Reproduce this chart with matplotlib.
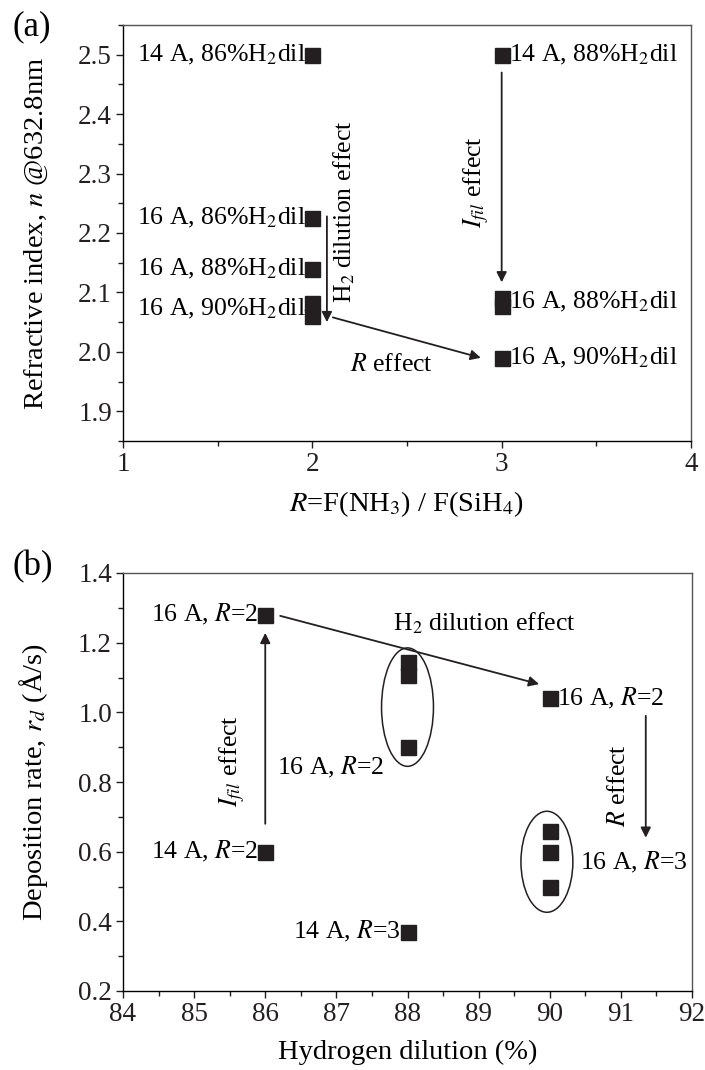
import matplotlib
matplotlib.use("Agg")
import matplotlib.pyplot as plt
from matplotlib.patches import Ellipse
from matplotlib.ticker import MultipleLocator, FormatStrFormatter

plt.rcParams['font.family'] = ['Liberation Serif', 'DejaVu Serif']
plt.rcParams['mathtext.fontset'] = 'stix'

# ---- data panel (a) ----
a_R = [2, 2, 2, 2, 2, 3, 3, 3, 3]
a_n = [2.50, 2.225, 2.14, 2.083, 2.06, 2.50, 2.09, 2.078, 1.99]
a_labels = [
    (2, 2.50, "14 A, 86%H$_2$dil", 'left'),
    (2, 2.225, "16 A, 86%H$_2$dil", 'left'),
    (2, 2.14, "16 A, 88%H$_2$dil", 'left'),
    (2, 2.072, "16 A, 90%H$_2$dil", 'left'),
    (3, 2.50, "14 A, 88%H$_2$dil", 'right'),
    (3, 2.084, "16 A, 88%H$_2$dil", 'right'),
    (3, 1.99, "16 A, 90%H$_2$dil", 'right'),
]

# ---- data panel (b) ----
b_dil = [86, 86, 88, 88, 88, 88, 90, 90, 90, 90]
b_rate = [1.28, 0.60, 1.145, 1.107, 0.90, 0.37, 1.04, 0.66, 0.60, 0.50]
b_labels = [
    (86, 1.28, "16 A, $R$=2", 'left'),
    (86, 0.60, "14 A, $R$=2", 'left'),
    (88, 0.37, "14 A, $R$=3", 'left'),
    (90, 1.04, "16 A, $R$=2", 'right'),
]

W, H = 705, 1070
fig = plt.figure(figsize=(W/100, H/100), dpi=100)
mcol = '#231f20'
ms = 10.8
lab_fs = 18.5
tick_fs = 19.5
axlab_fs = 20.5

def style(ax):
    ax.tick_params(which='both', direction='out', top=False, right=False,
                   labelsize=tick_fs, width=1.0, colors='#231f20')
    ax.tick_params(which='major', length=5, pad=3)
    ax.tick_params(which='minor', length=3.5)
    for s in ['top', 'right']:
        ax.spines[s].set_color('#555555')
    for s in ax.spines.values():
        s.set_linewidth(1.0)

def place_label(ax, x, y, txt, side):
    if side == 'left':
        ax.annotate(txt, (x, y), xytext=(-5.0, 0), textcoords='offset points',
                    ha='right', va='center', fontsize=lab_fs)
    else:
        ax.annotate(txt, (x, y), xytext=(5.0, 0), textcoords='offset points',
                    ha='left', va='center', fontsize=lab_fs)

arrowkw = dict(arrowstyle='-|>', color='#231f20', lw=1.3, mutation_scale=15,
               shrinkA=0, shrinkB=0)

# ---------------- panel (a) ----------------
axa = fig.add_axes([123/W, 1-441/H, (691-123)/W, (441-25)/H])
axa.plot(a_R, a_n, 's', color=mcol, ms=ms, mec=mcol)
axa.set_xlim(1, 4)
axa.set_ylim(1.85, 2.55)
axa.xaxis.set_major_locator(MultipleLocator(1))
axa.xaxis.set_minor_locator(MultipleLocator(0.5))
axa.yaxis.set_major_locator(MultipleLocator(0.1))
axa.yaxis.set_minor_locator(MultipleLocator(0.05))
axa.yaxis.set_major_formatter(FormatStrFormatter('%.1f'))
style(axa)
for x, y, t, s in a_labels:
    place_label(axa, x, y, t, s)
axa.annotate('', xy=(2.077, 2.05), xytext=(2.077, 2.228), arrowprops=arrowkw)
axa.text(2.17, 2.236, "H$_2$ dilution effect", rotation=90, ha='center',
         va='center', fontsize=lab_fs)
axa.annotate('', xy=(3.0, 2.117), xytext=(3.0, 2.47), arrowprops=arrowkw)
axa.text(2.868, 2.285, "$I_{fil}$ effect", rotation=90, ha='center',
         va='center', fontsize=lab_fs)
axa.annotate('', xy=(2.89, 1.99), xytext=(2.108, 2.058), arrowprops=arrowkw)
axa.text(2.42, 1.978, "$R$ effect", ha='center', va='center', fontsize=lab_fs)
axa.set_xlabel("$R$=F(NH$_3$) / F(SiH$_4$)", fontsize=axlab_fs)
axa.set_ylabel("Refractive index, $n$ @632.8nm", fontsize=axlab_fs)
axa.xaxis.set_label_coords(0.5, -0.115)
axa.yaxis.set_label_coords(-0.128, 0.5)
fig.text(12/W, 1-27/H, "(a)", fontsize=25, ha='left', va='center')

# ---------------- panel (b) ----------------
axb = fig.add_axes([123/W, 1-991/H, (692-123)/W, (991-573)/H])
axb.plot(b_dil, b_rate, 's', color=mcol, ms=ms, mec=mcol)
axb.set_xlim(84, 92)
axb.set_ylim(0.2, 1.4)
axb.xaxis.set_major_locator(MultipleLocator(1))
axb.xaxis.set_minor_locator(MultipleLocator(0.5))
axb.yaxis.set_major_locator(MultipleLocator(0.2))
axb.yaxis.set_minor_locator(MultipleLocator(0.1))
axb.yaxis.set_major_formatter(FormatStrFormatter('%.1f'))
style(axb)
for x, y, t, s in b_labels:
    place_label(axb, x, y, t, s)
axb.text(86.17, 0.843, "16 A, $R$=2", ha='left', va='center', fontsize=lab_fs)
axb.text(90.42, 0.57, "16 A, $R$=3", ha='left', va='center', fontsize=lab_fs)
axb.text(89.08, 1.255, "H$_2$ dilution effect", ha='center', va='center',
         fontsize=lab_fs)
axb.add_patch(Ellipse((88.0, 1.015), 0.73, 0.34, fill=False, lw=1.1, color='#231f20'))
axb.add_patch(Ellipse((89.96, 0.571), 0.73, 0.29, fill=False, lw=1.1, color='#231f20'))
axb.annotate('', xy=(86.0, 1.228), xytext=(86.0, 0.68), arrowprops=arrowkw)
axb.text(85.53, 0.86, "$I_{fil}$ effect", rotation=90, ha='center',
         va='center', fontsize=lab_fs)
axb.annotate('', xy=(89.85, 1.081), xytext=(86.21, 1.277), arrowprops=arrowkw)
axb.annotate('', xy=(91.35, 0.64), xytext=(91.35, 0.99), arrowprops=arrowkw)
axb.text(90.97, 0.79, "$R$ effect", rotation=90, ha='center',
         va='center', fontsize=lab_fs)
axb.set_xlabel("Hydrogen dilution (%)", fontsize=axlab_fs)
axb.set_ylabel("Deposition rate, $r_d$ (Å/s)", fontsize=axlab_fs)
axb.xaxis.set_label_coords(0.5, -0.118)
axb.yaxis.set_label_coords(-0.128, 0.5)
fig.text(12/W, 1-567/H, "(b)", fontsize=25, ha='left', va='center')

fig.savefig("out.png", dpi=100)
